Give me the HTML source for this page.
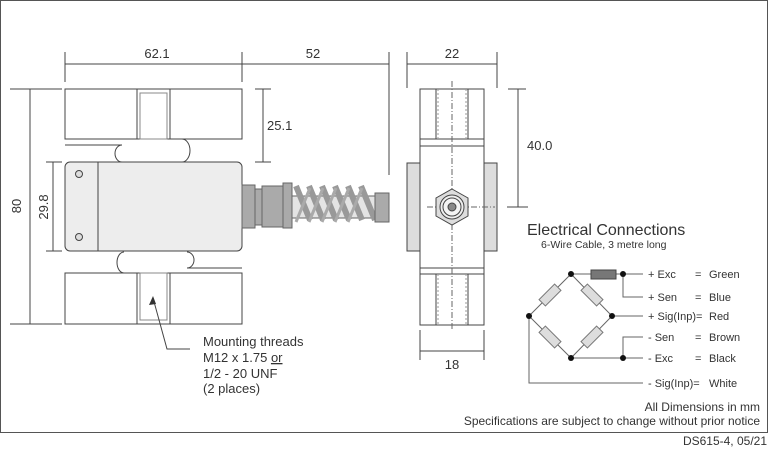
<!DOCTYPE html>
<html><head><meta charset="utf-8"><style>
html,body{margin:0;padding:0;background:#fff}
svg{display:block}
text{font-family:"Liberation Sans",Arial,sans-serif;fill:#333}
</style></head><body>
<svg width="770" height="449" viewBox="0 0 770 449" xmlns="http://www.w3.org/2000/svg">
<rect x="0.5" y="0.5" width="767" height="432" fill="#fff" stroke="#555" stroke-width="1"/>
<g stroke="#444" stroke-width="1" fill="none">
<line x1="65" y1="52" x2="65" y2="82"/><line x1="242" y1="52" x2="242" y2="82"/><line x1="389" y1="52" x2="389" y2="175"/>
<line x1="65" y1="64" x2="389" y2="64"/>
<line x1="10" y1="89" x2="62" y2="89"/><line x1="10" y1="324" x2="62" y2="324"/><line x1="30" y1="89" x2="30" y2="324"/>
<line x1="46" y1="162" x2="62" y2="162"/><line x1="46" y1="251" x2="62" y2="251"/><line x1="53" y1="162" x2="53" y2="251"/>
<line x1="255" y1="89" x2="271" y2="89"/><line x1="255" y1="162" x2="271" y2="162"/><line x1="263" y1="89" x2="263" y2="162"/>
</g>
<text x="157" y="58" font-size="13" text-anchor="middle">62.1</text>
<text x="313" y="58" font-size="13" text-anchor="middle">52</text>
<text x="267" y="130" font-size="13">25.1</text>
<text transform="translate(21,206) rotate(-90)" font-size="13" text-anchor="middle">80</text>
<text transform="translate(48,207) rotate(-90)" font-size="13" text-anchor="middle">29.8</text>
<g stroke="#444" stroke-width="1" fill="none">
<rect x="65" y="89" width="177" height="50" fill="#fff"/>
<rect x="137" y="89" width="33" height="50" fill="#fff"/><rect x="140" y="93" width="27" height="46" stroke="#888"/>
<path d="M65 145 H122 A7 8.5 0 0 0 122 162"/>
<path d="M182 139 A8 11.5 0 0 1 182 162"/>
<rect x="65" y="162" width="177" height="89" rx="5" fill="#ededed"/>
<line x1="98" y1="162" x2="98" y2="251"/>
<path d="M124 252 A7 10.5 0 0 0 124 273"/>
<path d="M187 252 A7 8 0 0 1 187 268 H242"/>
<rect x="65" y="273" width="177" height="51" fill="#fff"/>
<rect x="137" y="273" width="33" height="51" fill="#fff"/><rect x="140" y="273" width="27" height="47" stroke="#888"/>
<circle cx="79" cy="174" r="3.5" fill="#ddd"/><circle cx="79" cy="237" r="3.5" fill="#ddd"/>
</g>
<g stroke="#666" stroke-width="1" fill="#aaa">
<rect x="242" y="185" width="13" height="43"/>
<rect x="255" y="189" width="7" height="36"/>
<rect x="262" y="186" width="21" height="41"/>
<rect x="283" y="183" width="9" height="45"/>
<rect x="292" y="196" width="85" height="22" fill="#e4e4e4"/>
<path d="M296 186 L310 220 M309 186 L323 220 M322 186 L336 220 M335 186 L349 220 M348 186 L362 220 M361 186 L375 220" stroke="#999" stroke-width="6"/>
<path d="M296 222 L310 188 M309 222 L323 188 M322 222 L336 188 M335 222 L349 188 M348 222 L362 188" stroke="#aaa" stroke-width="3"/>
<rect x="375" y="193" width="14" height="29"/>
</g>
<path d="M190 349 H167 L153 298" stroke="#444" fill="none"/>
<path d="M153 296 L149 305 L156 304 Z" fill="#333"/>
<g font-size="13"><text x="203" y="346">Mounting threads</text><text x="203" y="362">M12 x 1.75 <tspan text-decoration="underline">or</tspan></text><text x="203" y="378">1/2 - 20 UNF</text><text x="203" y="393">(2 places)</text></g>
<g stroke="#444" stroke-width="1" fill="none">
<line x1="407" y1="52" x2="407" y2="88"/><line x1="497" y1="52" x2="497" y2="88"/><line x1="407" y1="64" x2="497" y2="64"/>
<line x1="420" y1="330" x2="420" y2="360"/><line x1="484" y1="330" x2="484" y2="360"/><line x1="420" y1="351" x2="484" y2="351"/>
<line x1="508" y1="89" x2="526" y2="89"/><line x1="507" y1="207" x2="528" y2="207"/><line x1="518" y1="89" x2="518" y2="207"/>
</g>
<text x="452" y="58" font-size="13" text-anchor="middle">22</text>
<text x="452" y="369" font-size="13" text-anchor="middle">18</text>
<text x="527" y="150" font-size="13">40.0</text>
<g stroke="#444" stroke-width="1">
<rect x="407" y="163" width="13" height="88" fill="#ddd"/><rect x="484" y="163" width="13" height="88" fill="#ddd"/>
<rect x="420" y="89" width="64" height="236" fill="#fff"/>
<rect x="420" y="139" width="64" height="7" fill="#fff"/><rect x="420" y="268" width="64" height="6" fill="#fff"/>
<line x1="436" y1="89" x2="436" y2="139"/><line x1="468" y1="89" x2="468" y2="139"/>
<line x1="436" y1="274" x2="436" y2="325"/><line x1="468" y1="274" x2="468" y2="325"/>
<path d="M438 89V139M466 89V139M438 274V325M466 274V325" stroke="#999" stroke-dasharray="2 2"/>
<path d="M452 81V331M427 207H495" stroke="#666" stroke-dasharray="6 2 1 2"/>
<polygon points="452,189 468,198 468,216 452,225 436,216 436,198" fill="#ddd"/>
<circle cx="452" cy="207" r="12" fill="#eee"/><circle cx="452" cy="207" r="9" fill="#f4f4f4"/>
<circle cx="452" cy="207" r="4" fill="#888"/>
</g>
<text x="527" y="235" font-size="16">Electrical Connections</text>
<text x="541" y="248" font-size="10.5">6-Wire Cable, 3 metre long</text>
<g stroke="#666" stroke-width="1" fill="none">
<path d="M571 274 L529 316 L571 358 L612 316 Z"/>
<path d="M571 274 H643 M623 274 V297 H643 M612 316 H643 M643 337 H623 V358 M571 358 H643 M529 316 V383 H643"/>
</g>
<rect x="591" y="270" width="25" height="9" fill="#777" stroke="#444"/>
<g fill="#ddd" stroke="#777">
<rect x="-11" y="-4.5" width="22" height="9" transform="translate(550,295) rotate(-45)"/>
<rect x="-11" y="-4.5" width="22" height="9" transform="translate(592,295) rotate(45)"/>
<rect x="-11" y="-4.5" width="22" height="9" transform="translate(550,337) rotate(45)"/>
<rect x="-11" y="-4.5" width="22" height="9" transform="translate(592,337) rotate(-45)"/>
</g>
<g fill="#111"><circle cx="571" cy="274" r="3"/><circle cx="623" cy="274" r="3"/><circle cx="529" cy="316" r="3"/><circle cx="612" cy="316" r="3"/><circle cx="571" cy="358" r="3"/><circle cx="623" cy="358" r="3"/></g>
<g font-size="11">
<text x="648" y="278">+ Exc</text><text x="695" y="278">=</text><text x="709" y="278">Green</text>
<text x="648" y="301">+ Sen</text><text x="695" y="301">=</text><text x="709" y="301">Blue</text>
<text x="648" y="320">+ Sig(Inp)=</text><text x="709" y="320">Red</text>
<text x="648" y="341">-  Sen</text><text x="695" y="341">=</text><text x="709" y="341">Brown</text>
<text x="648" y="362">-  Exc</text><text x="695" y="362">=</text><text x="709" y="362">Black</text>
<text x="648" y="387">-  Sig(Inp)=</text><text x="709" y="387">White</text>
</g>
<text x="760" y="411" font-size="12" text-anchor="end">All Dimensions in mm</text>
<text x="760" y="425" font-size="12" text-anchor="end">Specifications are subject to change without prior notice</text>
<text x="767" y="445" font-size="12" text-anchor="end">DS615-4, 05/21</text>
</svg>
</body></html>
